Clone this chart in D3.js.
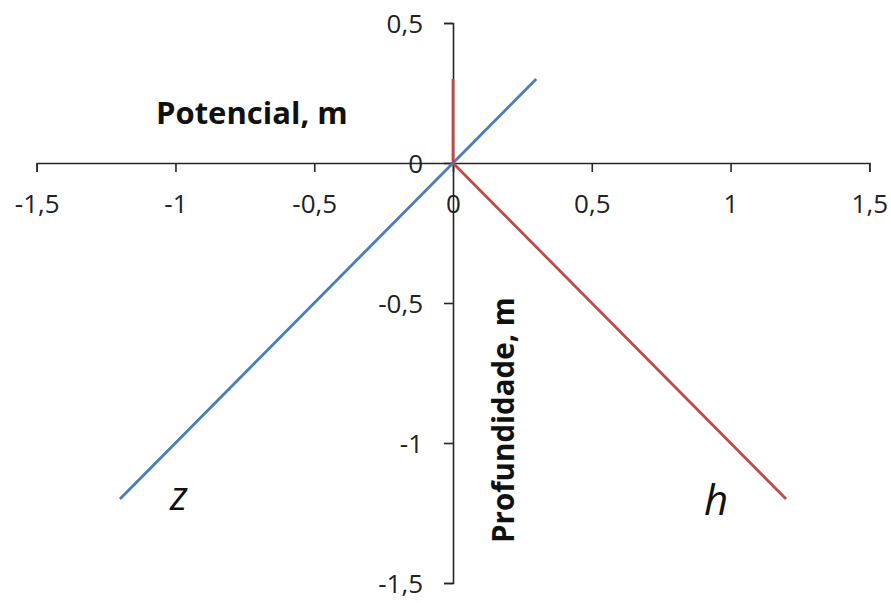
<!DOCTYPE html>
<html>
<head>
<meta charset="utf-8">
<script src="https://cdn.jsdelivr.net/npm/d3@7"></script>
<style>
  html, body { margin: 0; padding: 0; background: #fff; }
  svg { display: block; font-family: "Open Sans", sans-serif; }
</style>
</head>
<body>
<svg id="chart" width="891" height="603"></svg>
<script>
// Elevation head z and pressure head h against depth
const xTicks = [-1.5, -1, -0.5, 0, 0.5, 1, 1.5];
const yTicks = [-1.5, -1, -0.5, 0, 0.5];
const zSeries = [[-1.2, -1.2], [0, 0], [0.3, 0.3]];
const hSeries = [[0, 0.3], [0, 0], [1.2, -1.2]];
const seriesNames = ["z", "h"];
const xTitle = "Potencial, m";
const yTitle = "Profundidade, m";

const fmt = v => String(v).replace(".", ",");

const svg = d3.select("#chart");
const x = d3.scaleLinear().domain([-1.5, 1.5]).range([36.7, 869.3]);
const y = d3.scaleLinear().domain([-1.5, 0.5]).range([583, 23]);

const axisColor = "#262626";

// horizontal axis through y = 0
const gx = svg.append("g")
  .attr("transform", `translate(0,${y(0)})`)
  .call(d3.axisBottom(x).tickValues(xTicks).tickFormat(fmt)
    .tickSize(9).tickSizeOuter(9).tickPadding(22.5));
// vertical axis through x = 0
const gy = svg.append("g")
  .attr("transform", `translate(${x(0)},0)`)
  .call(d3.axisLeft(y).tickValues(yTicks).tickFormat(fmt)
    .tickSize(9).tickSizeOuter(9).tickPadding(21));

[gx, gy].forEach(g => {
  g.selectAll("path, line").attr("stroke", axisColor).attr("stroke-width", 1.6);
  g.selectAll("text").attr("fill", "#222").style("font-size", "26px")
    .style("font-family", "'Open Sans', sans-serif");
});
gy.selectAll("text").attr("dy", "0.35em");

const line = d3.line().x(d => x(d[0])).y(d => y(d[1]));

svg.append("path").datum(zSeries)
  .attr("d", line).attr("fill", "none")
  .attr("stroke", "#4A7EBB").attr("stroke-width", 2.8);
svg.append("path").datum(hSeries)
  .attr("d", line).attr("fill", "none")
  .attr("stroke", "#BE4B48").attr("stroke-width", 2.8)
  .attr("stroke-linejoin", "round");

// axis titles
svg.append("text")
  .attr("x", 156).attr("y", 124)
  .style("font-size", "31px").style("font-weight", "bold")
  .attr("fill", "#111")
  .text(xTitle);
svg.append("text")
  .attr("transform", `translate(514,543) rotate(-90)`)
  .style("font-size", "29.5px").style("font-weight", "bold")
  .attr("fill", "#111")
  .text(yTitle);

// series labels near the lower ends of the lines
svg.append("text")
  .attr("x", x(zSeries[0][0]) + 50).attr("y", 510)
  .style("font-size", "40px").style("font-style", "italic")
  .attr("fill", "#111")
  .text(seriesNames[0]);
svg.append("text")
  .attr("x", x(hSeries[2][0]) - 82).attr("y", 515)
  .style("font-size", "42px").style("font-style", "italic")
  .attr("fill", "#111")
  .text(seriesNames[1]);
</script>
</body>
</html>
